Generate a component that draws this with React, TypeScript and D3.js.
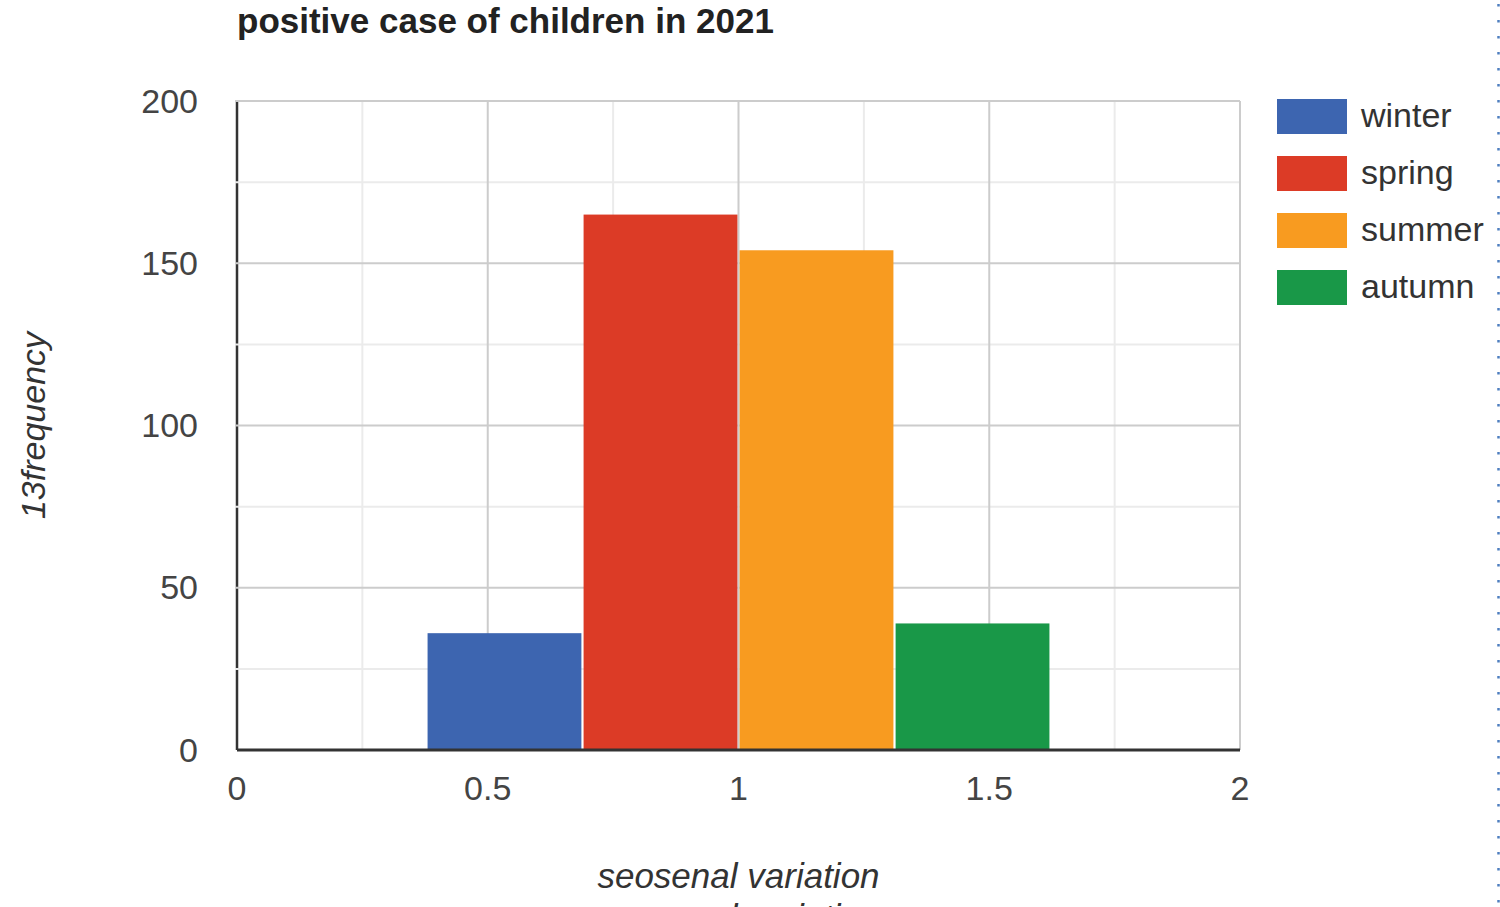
import * as d3 from "d3";
import { useEffect, useRef } from "react";

const title = "positive case of children in 2021";
const xTitle = "seosenal variation";
const yTitle = "13frequency";

const xValues = [1];
const seriesNames = ["winter", "spring", "summer", "autumn"];
const seriesColors = ["#3d65b0", "#dc3b26", "#f89b20", "#199848"];
const seriesValues = [[36], [165], [154], [39]];

const xTicks = [0, 0.5, 1, 1.5, 2];
const yTicks = [0, 50, 100, 150, 200];

const App = () => {
  const ref = useRef<SVGSVGElement | null>(null);

  useEffect(() => {
    if (!ref.current) return;
    const svg = d3.select(ref.current);
    svg.selectAll("*").remove();
    const width = 1500;
    const height = 907;
    const left = 237;
    const right = 1240;
    const top = 101;
    const bottom = 750;
    const font = "Arial, 'Liberation Sans', sans-serif";

    svg.attr("width", width).attr("height", height);

    const x = d3.scaleLinear().domain([0, 2]).range([left, right]);
    const y = d3.scaleLinear().domain([0, 200]).range([bottom, top]);

    svg.append("rect").attr("width", width).attr("height", height).attr("fill", "#fff");

    // left axis line (drawn under the grid so grid lines cut it)
    svg
      .append("line")
      .attr("x1", left)
      .attr("x2", left)
      .attr("y1", top)
      .attr("y2", bottom)
      .attr("stroke", "#333")
      .attr("stroke-width", 2.5);

    const minorY = d3.range(25, 200, 50);
    const minorX = d3.range(0.25, 2, 0.5);

    const grid = svg.append("g");
    grid
      .selectAll("line.my")
      .data(minorY)
      .join("line")
      .attr("x1", left - 2)
      .attr("x2", right)
      .attr("y1", (d) => y(d))
      .attr("y2", (d) => y(d))
      .attr("stroke", "#ebebeb")
      .attr("stroke-width", 2);
    grid
      .selectAll("line.mx")
      .data(minorX)
      .join("line")
      .attr("x1", (d) => x(d))
      .attr("x2", (d) => x(d))
      .attr("y1", top)
      .attr("y2", bottom)
      .attr("stroke", "#ebebeb")
      .attr("stroke-width", 2);
    grid
      .selectAll("line.gy")
      .data(yTicks.filter((d) => d > 0))
      .join("line")
      .attr("x1", left - 2)
      .attr("x2", right)
      .attr("y1", (d) => y(d))
      .attr("y2", (d) => y(d))
      .attr("stroke", "#cccccc")
      .attr("stroke-width", 2);
    grid
      .selectAll("line.gx")
      .data(xTicks.filter((d) => d > 0))
      .join("line")
      .attr("x1", (d) => x(d))
      .attr("x2", (d) => x(d))
      .attr("y1", top)
      .attr("y2", bottom)
      .attr("stroke", "#cccccc")
      .attr("stroke-width", 2);

    // grouped bars
    const groupWidth = x(1.24) - x(0);
    xValues.forEach((xv, i) => {
      const inner = d3
        .scaleBand<string>()
        .domain(seriesNames)
        .range([x(xv) - groupWidth / 2, x(xv) + groupWidth / 2])
        .paddingInner(0.014);
      svg
        .append("g")
        .selectAll("rect")
        .data(seriesNames)
        .join("rect")
        .attr("x", (d) => inner(d)!)
        .attr("width", inner.bandwidth())
        .attr("y", (_, k) => y(seriesValues[k][i]))
        .attr("height", (_, k) => bottom - y(seriesValues[k][i]))
        .attr("fill", (_, k) => seriesColors[k]);
    });

    // baseline
    svg
      .append("line")
      .attr("x1", left)
      .attr("x2", right)
      .attr("y1", bottom)
      .attr("y2", bottom)
      .attr("stroke", "#333")
      .attr("stroke-width", 3);

    // tick labels
    svg
      .append("g")
      .selectAll("text")
      .data(yTicks)
      .join("text")
      .attr("x", 198)
      .attr("y", (d) => y(d))
      .attr("dy", "0.34em")
      .attr("text-anchor", "end")
      .attr("font-family", font)
      .attr("font-size", 34)
      .attr("fill", "#444")
      .text((d) => d3.format("")(d));

    svg
      .append("g")
      .selectAll("text")
      .data(xTicks)
      .join("text")
      .attr("x", (d) => x(d))
      .attr("y", 800)
      .attr("text-anchor", "middle")
      .attr("font-family", font)
      .attr("font-size", 34)
      .attr("fill", "#444")
      .text((d) => String(d));

    // title
    svg
      .append("text")
      .attr("x", left)
      .attr("y", 33)
      .attr("font-family", font)
      .attr("font-size", 35)
      .attr("font-weight", "bold")
      .attr("fill", "#222")
      .text(title);

    // axis titles (second copy is cut off by the bottom edge, as in the source)
    [888, 929].forEach((yy) =>
      svg
        .append("text")
        .attr("x", (left + right) / 2)
        .attr("y", yy)
        .attr("text-anchor", "middle")
        .attr("font-family", font)
        .attr("font-size", 35)
        .attr("font-style", "italic")
        .attr("fill", "#333")
        .text(xTitle)
    );

    svg
      .append("text")
      .attr("transform", `translate(45,${(top + bottom) / 2}) rotate(-90)`)
      .attr("text-anchor", "middle")
      .attr("font-family", font)
      .attr("font-size", 34)
      .attr("font-style", "italic")
      .attr("fill", "#333")
      .text(yTitle);

    // legend
    const legend = svg
      .append("g")
      .selectAll("g")
      .data(seriesNames)
      .join("g")
      .attr("transform", (_, k) => `translate(1277,${99 + k * 57})`);
    legend
      .append("rect")
      .attr("width", 70)
      .attr("height", 35)
      .attr("fill", (_, k) => seriesColors[k]);
    legend
      .append("text")
      .attr("x", 84)
      .attr("y", 17.5)
      .attr("dy", "0.3em")
      .attr("font-family", font)
      .attr("font-size", 34)
      .attr("fill", "#333")
      .text((d) => d);

    // dotted edge at the right
    svg
      .append("line")
      .attr("x1", 1498.5)
      .attr("x2", 1498.5)
      .attr("y1", 4)
      .attr("y2", height)
      .attr("stroke", "#4f7fc0")
      .attr("stroke-width", 2.5)
      .attr("stroke-dasharray", "2.5 13.5");
  }, []);

  return <svg ref={ref} style={{ position: "absolute", left: 0, top: 0, display: "block" }}></svg>;
};

export default App;
